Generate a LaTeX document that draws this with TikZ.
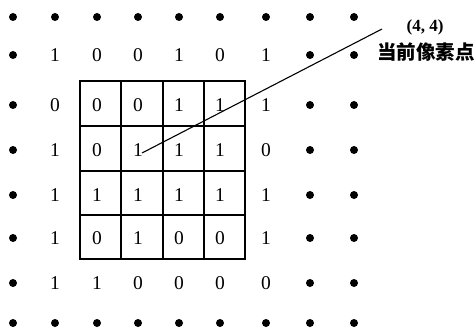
\documentclass[tikz,border=0pt]{standalone}
\usepackage{fontspec}
\setmainfont{Liberation Serif}
\newfontfamily\cjk{Noto Sans CJK SC}
\begin{document}
\begin{tikzpicture}[x=1pt,y=-1pt,
  dotnode/.style={circle,fill=black,inner sep=0pt,minimum size=8pt},
  valnode/.style={font=\fontsize{19.5}{19.5}\selectfont,inner sep=0pt},
  gridline/.style={line width=1.8pt},
  gridframe/.style={line width=2.4pt},
  leader/.style={line width=1.1pt}]
\useasboundingbox (0,0) rectangle (476,334);
% cell values: 9 = dot
\foreach \r/\y/\vals in {
  0/17/{9,9,9,9,9,9,9,9,9},
  1/55/{9,1,0,0,1,0,1,9,9},
  2/105/{9,0,0,0,1,1,1,9,9},
  3/150/{9,1,0,1,1,1,0,9,9},
  4/195/{9,1,1,1,1,1,1,9,9},
  5/238/{9,1,0,1,0,0,1,9,9},
  6/283/{9,1,1,0,0,0,0,9,9},
  7/323/{9,9,9,9,9,9,9,9,9}}{
  \foreach \v [count=\c from 0] in \vals {
    \pgfmathsetmacro\xx{{13,55,97,138,179,220,266,310,354}[\c]}
    \ifnum\v=9
      \node[dotnode] (n-\r-\c) at (\xx,\y) {};
    \else
      \node[valnode] (n-\r-\c) at (\xx,\y) {\v};
    \fi
  }
}
% 4x4 window
\draw[gridline] (121,81) -- (121,259) (163,81) -- (163,259) (204,81) -- (204,259)
  (80,126) -- (245,126) (80,171) -- (245,171) (80,215) -- (245,215);
\draw[gridframe] (80,81) rectangle (245,259);
% label
\coordinate (tip) at (382,29);
\node[font=\bfseries\fontsize{17}{17}\selectfont,inner sep=0pt] (lab) at (425,27) {(4, 4)};
\node[font=\cjk\bfseries\fontsize{19.5}{19.5}\selectfont,inner sep=0pt] (cur) at (426,52) {当前像素点};
\draw[leader] ([xshift=4pt,yshift=-3pt]n-3-3.center) -- (tip);
\end{tikzpicture}
\end{document}
